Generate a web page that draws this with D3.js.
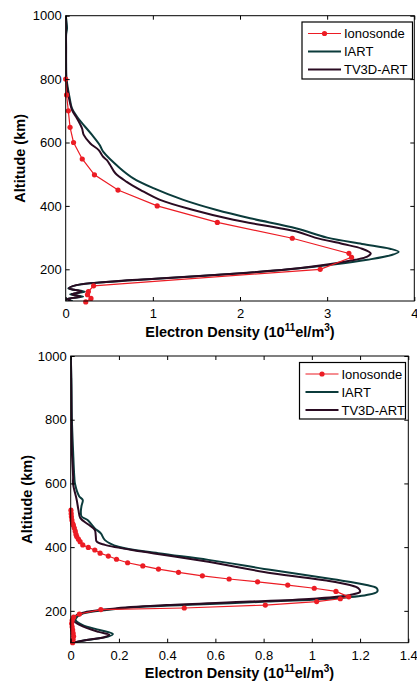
<!DOCTYPE html>
<html>
<head>
<meta charset="utf-8">
<script src="https://cdn.jsdelivr.net/npm/d3@7"></script>
<style>
  body { margin: 0; background: #fff; }
  svg { font-family: 'Liberation Sans', Arial, sans-serif; }
  .tick text { font-size: 13px; fill: #000; }
  .axis-title { font-size: 14.5px; font-weight: bold; fill: #000; }
  .legend text { font-size: 13px; fill: #000; }
</style>
</head>
<body>
<div id="chart"></div>
<script>
const seriesNames = ['Ionosonde', 'IART', 'TV3D-ART']
const colors = ['#ec1c24', '#0b3b3b', '#2a0b22']

// top panel
const topXTicks = [0, 1, 2, 3, 4]
const topIonoAlt = [800, 750, 700, 648, 600, 548, 498, 450, 400, 348, 298, 250, 238, 200, 148, 130, 120, 108, 97]
const topIonoVal = [0, 0.01, 0.03, 0.05, 0.09, 0.19, 0.33, 0.6, 1.05, 1.74, 2.6, 3.25, 3.28, 2.92, 0.32, 0.26, 0.25, 0.29, 0.23]
const topIartAlt = [1000, 980, 960, 940, 900, 850, 800, 745, 708, 681, 655, 624, 592, 571, 519, 487, 456, 419, 387, 361, 329, 300, 280, 265, 255, 245, 230, 215, 200, 185, 170, 160, 150, 140, 129, 121, 114, 106, 100]
const topIartVal = [0, 0.01, 0.015, 0.005, 0.005, 0.005, 0.01, 0.042, 0.072, 0.13, 0.207, 0.302, 0.39, 0.43, 0.623, 0.776, 1.006, 1.35, 1.733, 2.116, 2.65, 3.0, 3.4, 3.72, 3.82, 3.74, 3.46, 3.07, 2.57, 1.89, 1.04, 0.47, 0.13, 0.03, 0.22, 0.05, 0.2, 0.01, 0.08]
const topTvAlt = [1000, 900, 800, 745, 703, 676, 645, 624, 597, 576, 555, 545, 529, 503, 476, 450, 419, 387, 356, 319, 300, 280, 265, 250, 240, 230, 215, 200, 185, 170, 160, 150, 140, 130, 121, 114, 106, 100]
const topTvVal = [0, 0.003, 0.005, 0.034, 0.072, 0.13, 0.187, 0.207, 0.283, 0.379, 0.43, 0.47, 0.51, 0.57, 0.7, 0.86, 1.083, 1.465, 1.924, 2.65, 2.86, 3.18, 3.4, 3.5, 3.46, 3.32, 3.0, 2.55, 1.88, 1.02, 0.46, 0.12, 0.04, 0.18, 0.07, 0.17, 0.02, 0.06]

// bottom panel
const botXTicks = [0, 0.2, 0.4, 0.6, 0.8, 1, 1.2, 1.4]
const botIonoAlt = [516, 505, 495, 485, 475, 469, 460, 450, 440, 433, 425, 417, 407, 399, 391, 381, 372, 362, 351, 341, 331, 321, 310, 300, 291, 281, 271, 261, 244, 238, 229, 218, 209, 204, 190, 180, 170, 160, 150, 140, 130, 120, 110, 100]
const botIonoVal = [0.001, 0.002, 0.003, 0.005, 0.008, 0.011, 0.015, 0.019, 0.022, 0.025, 0.032, 0.039, 0.05, 0.073, 0.1, 0.122, 0.156, 0.19, 0.236, 0.299, 0.364, 0.447, 0.546, 0.657, 0.775, 0.9, 1.01, 1.1, 1.153, 1.118, 1.02, 0.807, 0.471, 0.125, 0.036, 0.012, 0.006, 0.004, 0.006, 0.008, 0.01, 0.012, 0.01, 0.008]
const botIartAlt = [1000, 930, 800, 700, 620, 598, 560, 548, 530, 511, 496, 485, 459, 443, 422, 401, 381, 360, 328, 299, 281, 271, 260, 250, 239, 229, 218, 211, 203, 192, 182, 171, 155, 140, 127, 119, 108, 100]
const botIartVal = [0, 0.003, 0.005, 0.01, 0.015, 0.018, 0.035, 0.05, 0.045, 0.042, 0.045, 0.07, 0.1, 0.125, 0.142, 0.198, 0.363, 0.571, 0.834, 1.089, 1.227, 1.269, 1.271, 1.227, 1.089, 0.813, 0.467, 0.26, 0.149, 0.053, 0.028, 0.02, 0.05, 0.12, 0.175, 0.155, 0.06, 0.01]
const botTvAlt = [1000, 900, 700, 620, 598, 548, 517, 491, 470, 454, 435, 417, 407, 386, 354, 318, 295, 281, 271, 260, 250, 239, 229, 218, 208, 197, 187, 171, 155, 134, 125, 118, 108, 100]
const botTvVal = [0, 0.002, 0.005, 0.01, 0.01, 0.025, 0.032, 0.04, 0.075, 0.1, 0.104, 0.108, 0.142, 0.295, 0.571, 0.834, 1.061, 1.158, 1.193, 1.2, 1.158, 1.02, 0.744, 0.398, 0.191, 0.066, 0.025, 0.011, 0.039, 0.115, 0.16, 0.142, 0.06, 0.01]

const yTicks = [200, 400, 600, 800, 1000]
const zip = (alt, val) => alt.map((a, i) => ({ alt: a, val: val[i] }))

const svg = d3.select('#chart').append('svg')
  .attr('width', 417)
  .attr('height', 686)

function panel ({ id, left, top, right, bottom, xMax, xTicks, iono, iart, tv, yTitleX, xTitleY, legend }) {
  const x = d3.scaleLinear().domain([0, xMax]).range([left, right])
  const y = d3.scaleLinear().domain([100, 1000]).range([bottom, top])
  const g = svg.append('g')

  g.append('clipPath').attr('id', id)
    .append('rect')
    .attr('x', left).attr('y', top)
    .attr('width', right - left).attr('height', bottom - top)

  const line = d3.line()
    .x(d => x(d.val))
    .y(d => y(d.alt))

  const plot = g.append('g').attr('clip-path', 'url(#' + id + ')')
  plot.append('path').datum(iart)
    .attr('fill', 'none').attr('stroke', colors[1]).attr('stroke-width', 2)
    .attr('d', line.curve(d3.curveCatmullRom))
  plot.append('path').datum(tv)
    .attr('fill', 'none').attr('stroke', colors[2]).attr('stroke-width', 2)
    .attr('d', line.curve(d3.curveCatmullRom))
  plot.append('path').datum(iono)
    .attr('fill', 'none').attr('stroke', colors[0]).attr('stroke-width', 1.2)
    .attr('d', line.curve(d3.curveLinear))

  // markers not clipped (matlab style)
  g.selectAll('circle.iono').data(iono).enter()
    .append('circle').attr('class', 'iono')
    .attr('cx', d => x(d.val)).attr('cy', d => y(d.alt))
    .attr('r', 2.6).attr('fill', colors[0])

  // axes, ticks inward on all four sides
  const tl = 4
  g.append('g').attr('transform', 'translate(0,' + bottom + ')')
    .call(d3.axisBottom(x).tickValues(xTicks).tickSizeInner(-tl).tickSizeOuter(0).tickPadding(8).tickFormat(d3.format('')))
  g.append('g').attr('transform', 'translate(0,' + top + ')')
    .call(d3.axisTop(x).tickValues(xTicks).tickSizeInner(-tl).tickSizeOuter(0).tickFormat(''))
  g.append('g').attr('transform', 'translate(' + left + ',0)')
    .call(d3.axisLeft(y).tickValues(yTicks).tickSizeInner(-tl).tickSizeOuter(0).tickPadding(4).tickFormat(d3.format('d')))
  g.append('g').attr('transform', 'translate(' + right + ',0)')
    .call(d3.axisRight(y).tickValues(yTicks).tickSizeInner(-tl).tickSizeOuter(0).tickFormat(''))
  g.selectAll('.domain').remove()
  g.selectAll('.tick line').attr('stroke', '#000')
  g.selectAll('.tick text').attr('font-family', null).attr('font-size', null)

  g.append('rect')
    .attr('x', left).attr('y', top)
    .attr('width', right - left).attr('height', bottom - top)
    .attr('fill', 'none').attr('stroke', '#000').attr('stroke-width', 1)

  g.append('text').attr('class', 'axis-title')
    .attr('transform', 'translate(' + yTitleX + ',' + (top + bottom) / 2 + ') rotate(-90)')
    .attr('text-anchor', 'middle').attr('dy', '0.35em')
    .text('Altitude (km)')

  const xt = g.append('text').attr('class', 'axis-title')
    .attr('x', (left + right) / 2).attr('y', xTitleY)
    .attr('text-anchor', 'middle')
  xt.append('tspan').text('Electron Density (10')
  xt.append('tspan').attr('font-size', '10px').attr('dy', -6).text('11')
  xt.append('tspan').attr('dy', 6).text('el/m')
  xt.append('tspan').attr('font-size', '10px').attr('dy', -6).text('3')
  xt.append('tspan').attr('dy', 6).text(')')

  // legend
  const lg = g.append('g').attr('class', 'legend')
  lg.append('rect')
    .attr('x', legend.x).attr('y', legend.y)
    .attr('width', legend.w).attr('height', legend.h)
    .attr('fill', '#fff').attr('stroke', '#000').attr('stroke-width', 1.2)
  seriesNames.forEach((name, i) => {
    const ly = legend.y + 11.5 + i * 18
    lg.append('line')
      .attr('x1', legend.x + 6).attr('x2', legend.x + 39)
      .attr('y1', ly).attr('y2', ly)
      .attr('stroke', colors[i]).attr('stroke-width', i === 0 ? 1.2 : 2)
    if (i === 0) {
      lg.append('circle').attr('cx', legend.x + 22.5).attr('cy', ly).attr('r', 2.6).attr('fill', colors[0])
    }
    lg.append('text')
      .attr('x', legend.x + 42).attr('y', ly).attr('dy', '0.36em')
      .text(name)
  })
}

panel({
  id: 'clipTop', left: 65.7, top: 15.7, right: 414.3, bottom: 301,
  xMax: 4, xTicks: topXTicks,
  iono: zip(topIonoAlt, topIonoVal), iart: zip(topIartAlt, topIartVal), tv: zip(topTvAlt, topTvVal),
  yTitleX: 20, xTitleY: 337,
  legend: { x: 302, y: 22, w: 110.5, h: 57 }
})

panel({
  id: 'clipBot', left: 70.7, top: 356, right: 408.3, bottom: 642.7,
  xMax: 1.4, xTicks: botXTicks,
  iono: zip(botIonoAlt, botIonoVal), iart: zip(botIartAlt, botIartVal), tv: zip(botTvAlt, botTvVal),
  yTitleX: 27, xTitleY: 678,
  legend: { x: 299.5, y: 362.5, w: 106, h: 56.5 }
})
</script>
</body>
</html>
